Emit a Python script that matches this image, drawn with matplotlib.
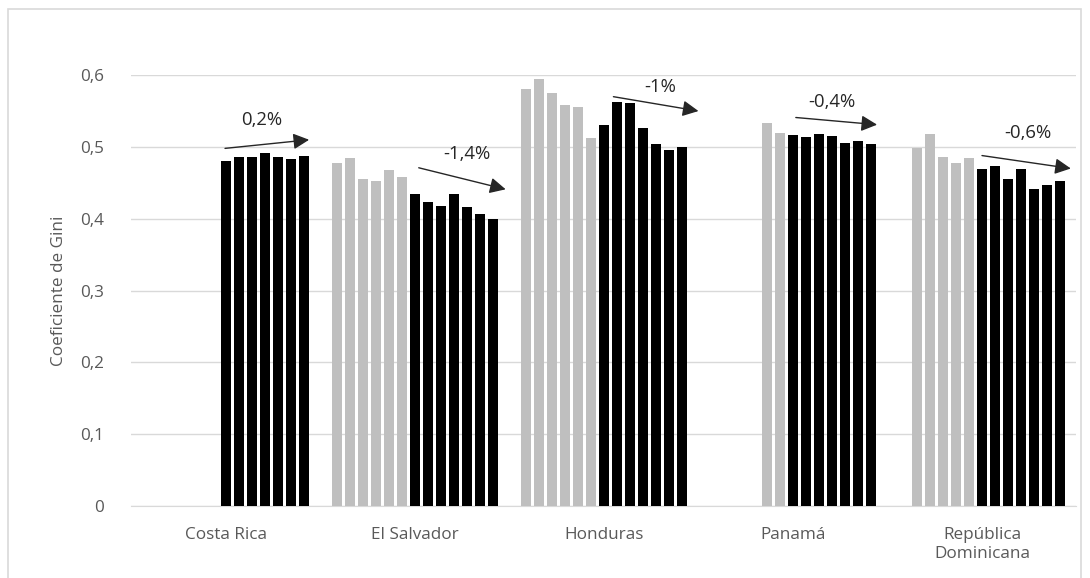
import numpy as np
import matplotlib.pyplot as plt
from matplotlib.patches import Rectangle

plt.rcParams['font.family'] = ['Open Sans', 'DejaVu Sans']

# datos: 13 años por país (None = sin dato); primeros 6 años en gris, últimos 7 en negro
paises = ['Costa Rica', 'El Salvador', 'Honduras', 'Panamá', 'República\nDominicana']
costa_rica = [None, None, None, None, None, None, 0.481, 0.486, 0.486, 0.492, 0.486, 0.483, 0.487]
el_salvador = [0.477, 0.484, 0.456, 0.452, 0.468, 0.458, 0.435, 0.423, 0.418, 0.434, 0.416, 0.406, 0.400]
honduras = [0.581, 0.595, 0.575, 0.558, 0.555, 0.513, 0.531, 0.562, 0.561, 0.526, 0.504, 0.496, 0.500]
panama = [None, None, None, None, 0.534, 0.519, 0.517, 0.514, 0.518, 0.515, 0.506, 0.508, 0.504]
rep_dominicana = [None, 0.499, 0.518, 0.486, 0.478, 0.485, 0.469, 0.473, 0.456, 0.469, 0.441, 0.447, 0.453]
n_gris = 6
variaciones = ['0,2%', '-1,4%', '-1%', '-0,4%', '-0,6%']

series = [costa_rica, el_salvador, honduras, panama, rep_dominicana]
valores = np.array([[np.nan if v is None else v for v in s] for s in series])

fig = plt.figure(figsize=(10.9, 5.78), dpi=100)
ax = fig.add_axes([0.1206, 0.1246, 0.867, 0.7454])

# borde del área del gráfico
fig.patches.append(Rectangle((8 / 1090, -0.05), 1073 / 1090, 1 - 9 / 578 + 0.05,
                             transform=fig.transFigure, fill=False,
                             edgecolor='#d9d9d9', linewidth=1.2))

paso = 13 / 189
ancho = 10 / 189
x = np.arange(len(paises))
for j in range(valores.shape[1]):
    color = '#bfbfbf' if j < n_gris else '#000000'
    ax.bar(x + (j - 6) * paso, valores[:, j], width=ancho, color=color, zorder=3)

ax.set_xlim(-0.5, len(paises) - 0.5)
ax.set_ylim(0, 0.6)
ax.set_yticks(np.arange(0, 0.61, 0.1))
ax.set_yticklabels(['0', '0,1', '0,2', '0,3', '0,4', '0,5', '0,6'])
ax.set_xticks(x)
ax.set_xticklabels(paises, linespacing=1.3)
ax.tick_params(axis='both', length=0, labelsize=12.3, colors='#595959')
ax.tick_params(axis='x', pad=15)
ax.tick_params(axis='y', pad=20)
ax.grid(axis='y', color='#d9d9d9', linewidth=1, zorder=0)
for lado in ['top', 'right', 'left']:
    ax.spines[lado].set_visible(False)
ax.spines['bottom'].set_color('#d9d9d9')
ax.set_ylabel('Coeficiente de Gini', fontsize=12.3, color='#595959', labelpad=9)

# flechas de tendencia
flechas = [((-0.005, 0.498), (0.44, 0.510), (0.19, 0.537)),
           ((1.02, 0.471), (1.48, 0.441), (1.275, 0.490)),
           ((2.05, 0.570), (2.50, 0.550), (2.296, 0.583)),
           ((3.015, 0.541), (3.445, 0.531), (3.206, 0.562)),
           ((4.0, 0.488), (4.47, 0.470), (4.243, 0.520))]
for texto, (ini, fin, pos) in zip(variaciones, flechas):
    ax.annotate('', xy=fin, xytext=ini,
                arrowprops=dict(arrowstyle='-|>', color='#262626', lw=1,
                                mutation_scale=24, shrinkA=0, shrinkB=0),
                zorder=5)
    ax.text(pos[0], pos[1], texto, ha='center', va='center', fontsize=13.3, color='#262626')

plt.savefig('out.png', dpi=100)
